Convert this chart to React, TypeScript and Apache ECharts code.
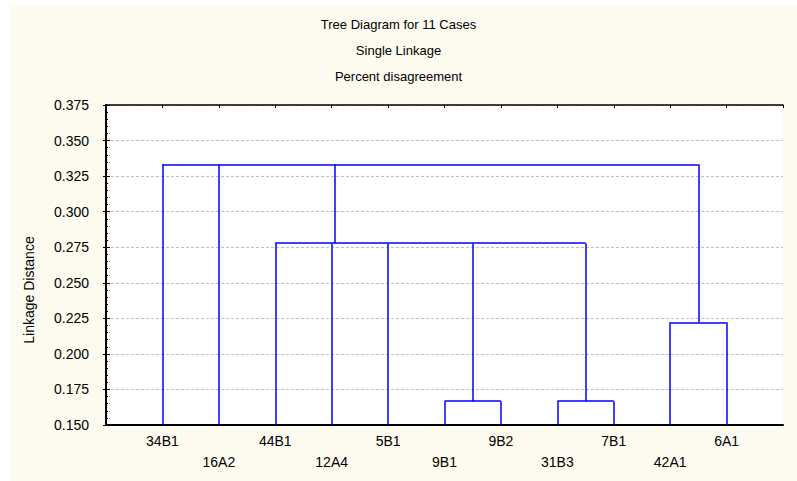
import React, { useEffect, useRef } from 'react';
import * as echarts from 'echarts';

const leaves = ['34B1', '16A2', '44B1', '12A4', '5B1', '9B1', '9B2', '31B3', '7B1', '42A1', '6A1'];
// each merge: level, x positions of its children, level each child starts from
const mergeLevels = [0.1667, 0.1667, 0.2222, 0.2778, 0.3333];
const mergeChildX = [[6, 7], [8, 9], [10, 11], [3, 4, 5, 6.5, 8.5], [1, 2, 4.06, 10.5]];
const mergeChildFrom = [
  [0.15, 0.15],
  [0.15, 0.15],
  [0.15, 0.15],
  [0.15, 0.15, 0.15, 0.1667, 0.1667],
  [0.15, 0.15, 0.2778, 0.2222],
];
const titleLines = ['Tree Diagram for 11 Cases', 'Single Linkage', 'Percent disagreement'];
const yAxisTitle = 'Linkage Distance';
const yMin = 0.15;
const yMax = 0.375;
const yStep = 0.025;

const FONT = '"Liberation Sans", Arial, sans-serif';

export default function App() {
  const ref = useRef<HTMLDivElement>(null);
  useEffect(() => {
    document.body.style.margin = '0';
    if (!ref.current) return;
    const chart = echarts.init(ref.current, null, { renderer: 'svg' });
    const segs: any[] = [];
    mergeLevels.forEach((h, i) => {
      const xs = mergeChildX[i];
      segs.push({ coords: [[Math.min(...xs), h], [Math.max(...xs), h]] });
      xs.forEach((x, j) => {
        segs.push({ coords: [[x, mergeChildFrom[i][j]], [x, h]] });
      });
    });
    chart.setOption({
      animation: false,
      backgroundColor: '#ffffff',
      textStyle: { fontFamily: FONT },
      title: {
        text: titleLines.join('\n'),
        left: 'center',
        top: 11,
        padding: 0,
        textStyle: { fontSize: 13, fontWeight: 'normal', color: '#000', lineHeight: 26, fontFamily: FONT },
      },
      graphic: [
        { type: 'rect', z: -10, shape: { x: 10, y: 5, width: 787, height: 476 }, style: { fill: '#FDFBEF' } },
        {
          type: 'text', x: 29, y: 290, rotation: Math.PI / 2,
          style: { text: yAxisTitle, fontSize: 14, fill: '#000', align: 'center', verticalAlign: 'middle', fontFamily: FONT },
        },
      ],
      grid: { left: 106, right: 14, top: 105, bottom: 56, show: true, backgroundColor: '#ffffff', borderWidth: 0 },
      xAxis: [
        {
          type: 'value', min: 0, max: 12, interval: 1, position: 'bottom',
          axisLine: { show: true, lineStyle: { color: '#000', width: 2 } },
          axisTick: { show: false },
          splitLine: { show: false },
          axisLabel: {
            color: '#000', fontSize: 14, lineHeight: 21, margin: 5, fontFamily: FONT,
            formatter: (v: number) => {
              const i = Math.round(v);
              if (i < 1 || i > leaves.length) return '';
              return (i % 2 === 0 ? '\n' : '') + leaves[i - 1];
            },
          },
        },
        {
          type: 'value', min: 0, max: 12, interval: 1, position: 'top',
          axisLine: { show: true, lineStyle: { color: '#000', width: 1.5 } },
          axisTick: { show: true, inside: true, length: 3, lineStyle: { color: '#000' } },
          axisLabel: { show: false },
          splitLine: { show: false },
        },
      ],
      yAxis: [
        {
          type: 'value', min: yMin, max: yMax, interval: yStep, position: 'left',
          axisLine: { show: true, lineStyle: { color: '#000', width: 2 } },
          axisTick: { show: true, inside: true, length: 4, lineStyle: { color: '#000' } },
          minorTick: { show: true, splitNumber: 5, length: 2, lineStyle: { color: '#000' } },
          axisLabel: { color: '#000', fontSize: 14, margin: 17, fontFamily: FONT, formatter: (v: number) => v.toFixed(3) },
          splitLine: { show: true, lineStyle: { color: '#c0c0c0', type: [3, 2], width: 1 } },
        },
        {
          type: 'value', min: yMin, max: yMax, interval: yStep, position: 'right',
          axisLine: { show: true, lineStyle: { color: '#000', width: 2 } },
          axisTick: { show: true, inside: true, length: 3, lineStyle: { color: '#000' } },
          axisLabel: { show: false },
          splitLine: { show: false },
        },
      ],
      series: [
        {
          type: 'lines',
          coordinateSystem: 'cartesian2d',
          xAxisIndex: 0,
          yAxisIndex: 0,
          polyline: false,
          lineStyle: { color: '#0000FF', width: 1.5, opacity: 1, curveness: 0 },
          data: segs,
          silent: true,
        },
      ],
    });
    return () => chart.dispose();
  }, []);
  return <div ref={ref} style={{ width: 797, height: 481 }} />;
}
